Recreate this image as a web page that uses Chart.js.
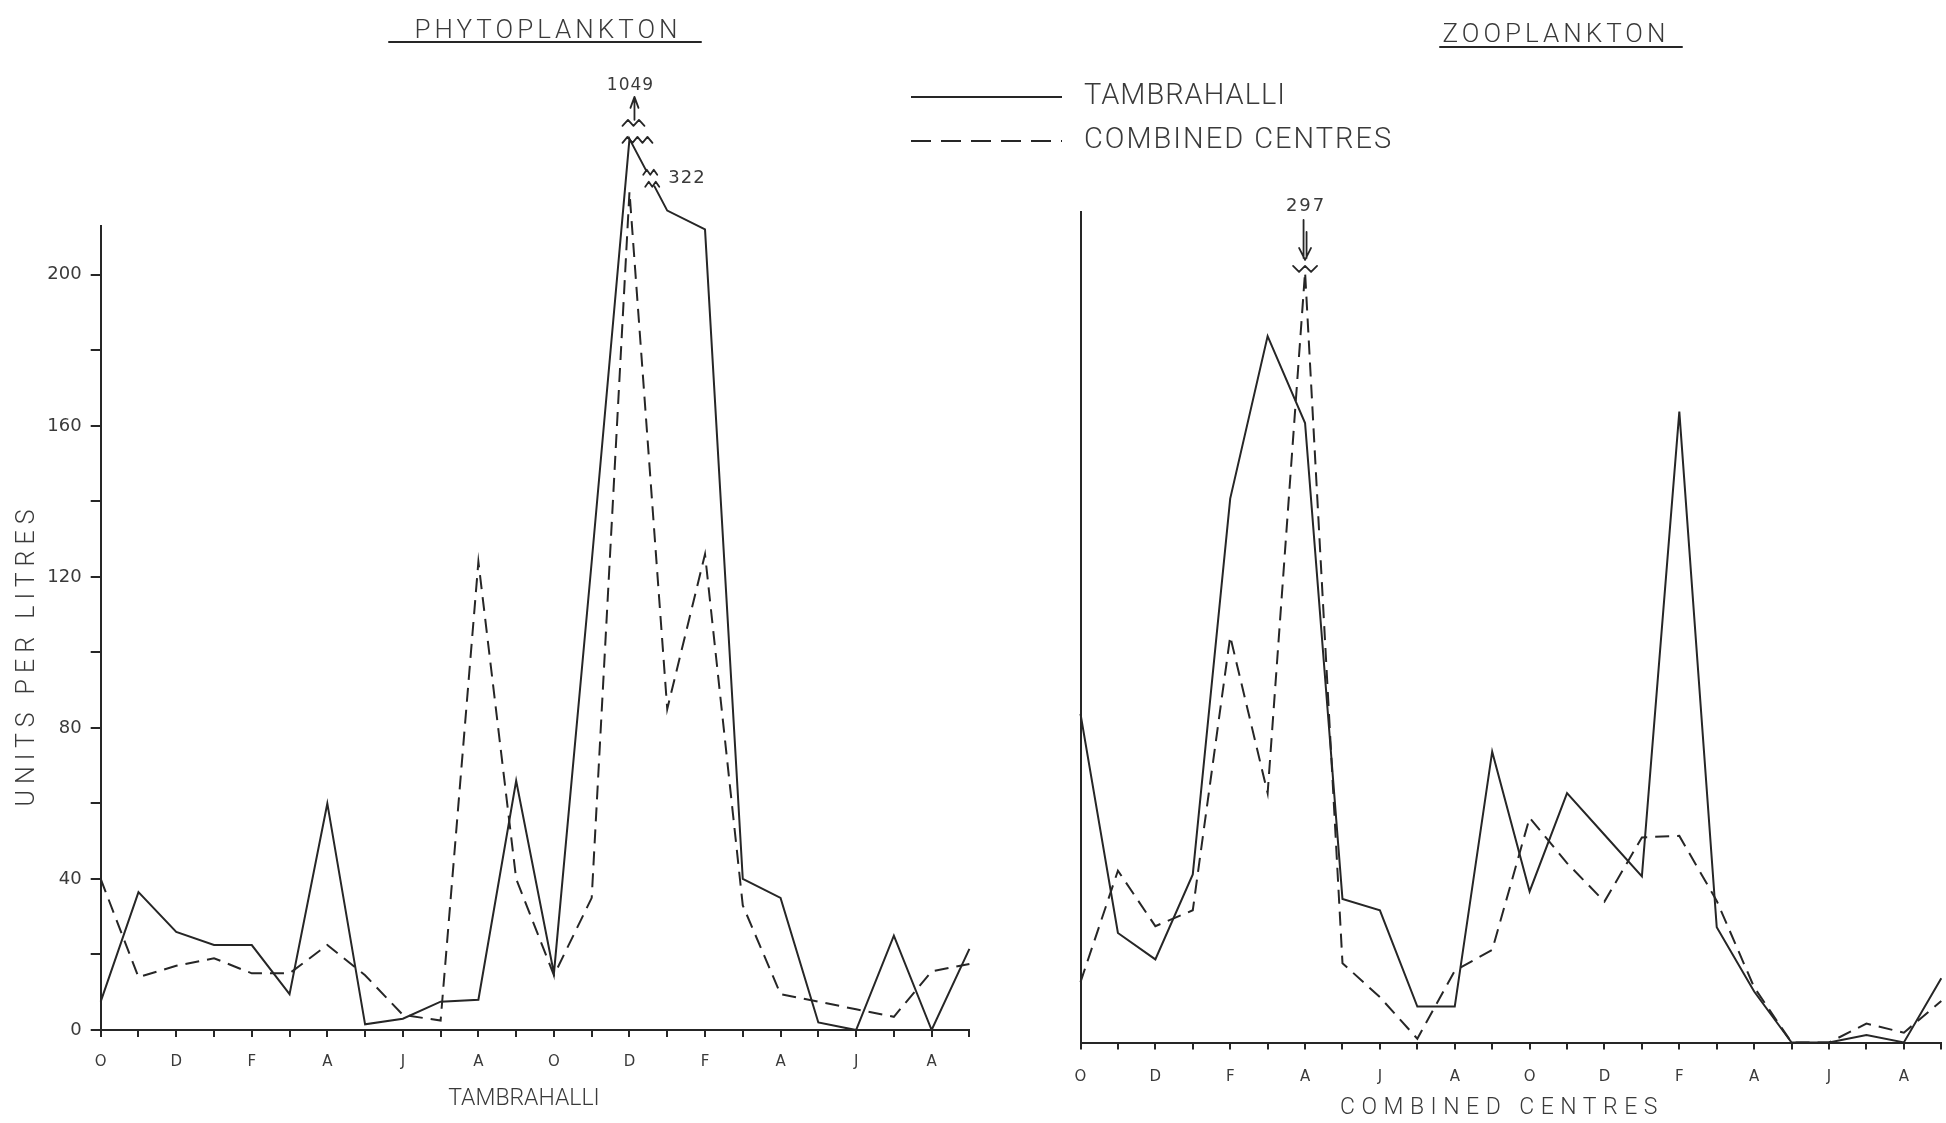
<!DOCTYPE html>
<html>
<head>
<meta charset="utf-8">
<script src="https://cdn.jsdelivr.net/npm/chart.js@4.4.1/dist/chart.umd.min.js"></script>
<style>
  html, body { margin: 0; padding: 0; background: #ffffff; }
  body { width: 1946px; height: 1123px; position: relative; overflow: hidden; }
  .wrap { position: absolute; left: 0; top: 0; width: 1946px; height: 1123px; }
  canvas { display: block; }
</style>
</head>
<body>
<div class="wrap"><canvas id="phyto" width="1946" height="1123"></canvas></div>
<div class="wrap"><canvas id="zoo" width="1946" height="1123"></canvas></div>
<script>
// ---------------- DATA ----------------
const months = ['O','N','D','J','F','M','A','M','J','J','A','S','O','N','D','J','F','M','A','M','J','J','A','S'];

// Phytoplankton (units per litre)
const phytoTambrahalli = [7.5, 36.5, 26, 22.5, 22.5, 9.5, 60, 1.5, 3, 7.5, 8, 66, 15, 124, 1049, 322, 212, 40, 35, 2, 0, 25, 0, 21.5];
const phytoCombined    = [40, 14, 17, 19, 15, 15, 22.5, 14.5, 4, 2.5, 124, 40, 14.5, 35, 222, 85, 126, 33, 9.5, 7.5, 5.5, 3.5, 15.5, 17.5];

// Zooplankton (units per litre)
const zooTambrahalli = [87, 29, 22, 44.5, 144, 187, 164, 38, 35, 9.5, 9.5, 77, 40, 66, 55, 44, 167, 30.5, 13.5, 0, 0, 2, 0, 17];
const zooCombined    = [16, 45.5, 30.8, 35, 107.5, 66, 297, 21, 12, 1, 19, 24.5, 59.5, 47.5, 37.3, 54.3, 54.7, 37.5, 14.6, 0, 0, 5, 2.6, 11];

const phytoYTicks  = [0, 20, 40, 60, 80, 100, 120, 140, 160, 180, 200];
const phytoYLabels = [0, 40, 80, 120, 160, 200];

const seriesNames = ['TAMBRAHALLI', 'COMBINED CENTRES'];
const chartTitles = ['PHYTOPLANKTON', 'ZOOPLANKTON'];
const xTitles     = ['TAMBRAHALLI', 'COMBINED CENTRES'];
const yTitle      = 'UNITS PER LITRES';

// Off-scale values: line drawn up to a broken axis, true value written as label
const phytoBreaks = [
  { series: 0, index: 14, drawnAt: 236, kind: 'up' },
  { series: 0, index: 15, drawnAt: 217, kind: 'slope' }
];
const zooBreaks = [
  { series: 1, index: 6, drawnAt: 204, kind: 'down' }
];

// ---------------- STYLE ----------------
const ink = '#262626';
const textInk = '#3a3a3a';
const lightFont = '"Roboto", "DejaVu Sans", sans-serif';
Chart.defaults.font.family = '"DejaVu Sans", sans-serif';
Chart.defaults.color = textInk;

function shownValues(values, breaks, seriesIdx) {
  return values.map((v, i) => {
    const b = breaks.find(b => b.series === seriesIdx && b.index === i);
    return b ? b.drawnAt : v;
  });
}

function zigzag(ctx, cx, cy, w, amp, n, startLow) {
  const step = w / (2 * n);
  ctx.beginPath();
  for (let k = 0; k <= 2 * n; k++) {
    const x = cx - w / 2 + k * step;
    const low = (k % 2 === 0) === startLow;
    const y = cy + (low ? amp / 2 : -amp / 2);
    if (k === 0) ctx.moveTo(x, y); else ctx.lineTo(x, y);
  }
  ctx.stroke();
}

function drawSpaced(ctx, text, x, y, font, spacing, align) {
  ctx.font = font;
  try { ctx.letterSpacing = spacing + 'px'; } catch (e) {}
  ctx.textAlign = align || 'center';
  ctx.textBaseline = 'middle';
  ctx.fillText(text, x, y);
  try { ctx.letterSpacing = '0px'; } catch (e) {}
}

const decoPlugin = {
  id: 'deco',
  afterDraw(chart, args, o) {
    const ctx = chart.ctx;
    const xs = chart.scales.x, ys = chart.scales.y;
    ctx.save();
    ctx.fillStyle = textInk;
    ctx.strokeStyle = ink;
    ctx.lineWidth = 2;
    ctx.lineCap = 'round';
    ctx.lineJoin = 'round';

    // chart title with underline
    drawSpaced(ctx, o.title, o.titleX, o.titleY, '300 26px ' + lightFont, o.titleSpacing);
    ctx.beginPath();
    ctx.moveTo(o.underline[0], o.underline[2]);
    ctx.lineTo(o.underline[1], o.underline[2]);
    ctx.stroke();

    // x-axis title
    drawSpaced(ctx, o.xTitle, o.xTitleX, o.xTitleY, '300 23px ' + lightFont, o.xTitleSpacing);

    // y-axis title
    if (o.yTitle) {
      ctx.save();
      ctx.translate(o.yTitleX, o.yTitleY);
      ctx.rotate(-Math.PI / 2);
      drawSpaced(ctx, o.yTitle, 0, 0, '300 25px ' + lightFont, 6);
      ctx.restore();
    }

    // legend
    if (o.legend) {
      chart.data.datasets.forEach((ds, i) => {
        const y = o.legend.y[i];
        ctx.save();
        ctx.lineCap = 'butt';
        ctx.setLineDash(ds.borderDash ? o.legend.dash : []);
        ctx.beginPath();
        ctx.moveTo(o.legend.x1, y);
        ctx.lineTo(o.legend.x2, y);
        ctx.stroke();
        ctx.restore();
        drawSpaced(ctx, ds.label, o.legend.textX, y, '300 29px ' + lightFont, o.legend.spacing[i], 'left');
      });
    }

    // broken-axis marks
    (o.breaks || []).forEach(b => {
      const data = o.trueValues[b.series];
      const label = String(data[b.index]);
      const px = xs.getPixelForValue(b.index);
      const py = ys.getPixelForValue(b.drawnAt);
      ctx.lineWidth = 1.8;
      if (b.kind === 'up') {
        zigzag(ctx, px + 8, py + 1, 30, 6, 3, true);
        zigzag(ctx, px + 4, py - 16, 22, 6, 2, true);
        ctx.beginPath();
        ctx.moveTo(px + 5, py - 19);
        ctx.lineTo(px + 5, py - 42);
        ctx.moveTo(px + 1, py - 31);
        ctx.lineTo(px + 5, py - 42);
        ctx.lineTo(px + 9, py - 31);
        ctx.stroke();
        drawSpaced(ctx, label, px + 1, py - 53, '17px "DejaVu Sans", sans-serif', 1);
      } else if (b.kind === 'slope') {
        const qx0 = xs.getPixelForValue(b.index - 1);
        const prev = phytoBreaks.find(p => p.series === b.series && p.index === b.index - 1);
        const qy0 = ys.getPixelForValue(prev ? prev.drawnAt : data[b.index - 1]);
        const t = 0.55;
        const cx = qx0 + (px - qx0) * t;
        const cy = qy0 + (py - qy0) * t;
        ctx.save();
        ctx.strokeStyle = '#ffffff';
        ctx.lineWidth = 6;
        ctx.beginPath();
        ctx.moveTo(cx - 2, cy - 5);
        ctx.lineTo(cx + 2, cy + 5);
        ctx.stroke();
        ctx.restore();
        zigzag(ctx, cx, cy - 6, 14, 5, 2, true);
        zigzag(ctx, cx + 2, cy + 6, 14, 5, 2, true);
        drawSpaced(ctx, label, cx + 18, cy, '18px "DejaVu Sans", sans-serif', 1, 'left');
      } else if (b.kind === 'down') {
        zigzag(ctx, px, py - 3, 24, 6, 2, false);
        ctx.beginPath();
        ctx.moveTo(px - 1.5, py - 52);
        ctx.lineTo(px - 1.5, py - 14);
        ctx.moveTo(px + 1.5, py - 40);
        ctx.lineTo(px + 1.5, py - 14);
        ctx.moveTo(px - 6, py - 24);
        ctx.lineTo(px, py - 12);
        ctx.lineTo(px + 6, py - 24);
        ctx.stroke();
        drawSpaced(ctx, label, px + 1, py - 66, '18px "DejaVu Sans", sans-serif', 2);
      }
    });
    ctx.restore();
  }
};

function lineDataset(name, values, dashed) {
  return {
    label: name,
    data: values,
    borderColor: ink,
    backgroundColor: ink,
    borderWidth: 2,
    borderDash: dashed ? [14, 8] : undefined,
    pointRadius: 0,
    pointHoverRadius: 0,
    tension: 0,
    fill: false,
    clip: false
  };
}

function xScale(height, pad) {
  return {
    type: 'category',
    labels: months,
    offset: false,
    grid: { display: true, drawOnChartArea: false, drawTicks: true, tickLength: 7, color: ink, lineWidth: 2 },
    border: { display: true, color: ink, width: 2 },
    ticks: {
      autoSkip: false, maxRotation: 0, minRotation: 0, padding: pad,
      color: textInk, font: { size: 15 },
      callback: (v, i) => (i % 2 === 0 ? months[i] : '')
    },
    afterFit: s => { s.height = height; s.paddingLeft = 0; s.paddingRight = 0; }
  };
}

// ---------------- PHYTOPLANKTON ----------------
new Chart(document.getElementById('phyto'), {
  type: 'line',
  data: {
    labels: months,
    datasets: [
      lineDataset(seriesNames[0], shownValues(phytoTambrahalli, phytoBreaks, 0), false),
      lineDataset(seriesNames[1], shownValues(phytoCombined, phytoBreaks, 1), true)
    ]
  },
  options: {
    responsive: false,
    animation: false,
    events: [],
    layout: { padding: { left: 0, right: 976.6, top: 225.7, bottom: 0 } },
    scales: {
      x: xScale(93, 16),
      y: {
        min: 0, max: 213,
        afterBuildTicks: s => { s.ticks = phytoYTicks.map(v => ({ value: v })); },
        grid: { display: true, drawOnChartArea: false, drawTicks: true, tickLength: 10, color: ink, lineWidth: 2 },
        border: { display: true, color: ink, width: 2 },
        ticks: {
          padding: 9, color: textInk, font: { size: 18 },
          callback: v => (phytoYLabels.includes(v) ? String(v) : '')
        },
        afterFit: s => { s.width = 100.7; }
      }
    },
    plugins: {
      legend: { display: false },
      tooltip: { enabled: false },
      deco: {
        title: chartTitles[0], titleX: 548, titleY: 31, titleSpacing: 4,
        underline: [389, 701, 42],
        xTitle: xTitles[0], xTitleX: 524, xTitleY: 1099, xTitleSpacing: 0,
        yTitle: yTitle, yTitleX: 28, yTitleY: 655,
        legend: { x1: 911, x2: 1062, y: [97, 141], textX: 1084, dash: [20, 10], spacing: [1, 2] },
        breaks: phytoBreaks,
        trueValues: [phytoTambrahalli, phytoCombined]
      }
    }
  },
  plugins: [decoPlugin]
});

// ---------------- ZOOPLANKTON ----------------
new Chart(document.getElementById('zoo'), {
  type: 'line',
  data: {
    labels: months,
    datasets: [
      lineDataset(seriesNames[0], shownValues(zooTambrahalli, zooBreaks, 0), false),
      lineDataset(seriesNames[1], shownValues(zooCombined, zooBreaks, 1), true)
    ]
  },
  options: {
    responsive: false,
    animation: false,
    events: [],
    layout: { padding: { left: 0, right: 4.7, top: 211.5, bottom: 0 } },
    scales: {
      x: xScale(80.5, 19),
      y: {
        min: 0, max: 220,
        grid: { display: false },
        border: { display: true, color: ink, width: 2 },
        ticks: { display: false },
        afterFit: s => { s.width = 1080.5; }
      }
    },
    plugins: {
      legend: { display: false },
      tooltip: { enabled: false },
      deco: {
        title: chartTitles[1], titleX: 1556, titleY: 35, titleSpacing: 4,
        underline: [1440, 1682, 47],
        xTitle: xTitles[1], xTitleX: 1502, xTitleY: 1108, xTitleSpacing: 6.5,
        breaks: zooBreaks,
        trueValues: [zooTambrahalli, zooCombined]
      }
    }
  },
  plugins: [decoPlugin]
});
</script>
</body>
</html>
